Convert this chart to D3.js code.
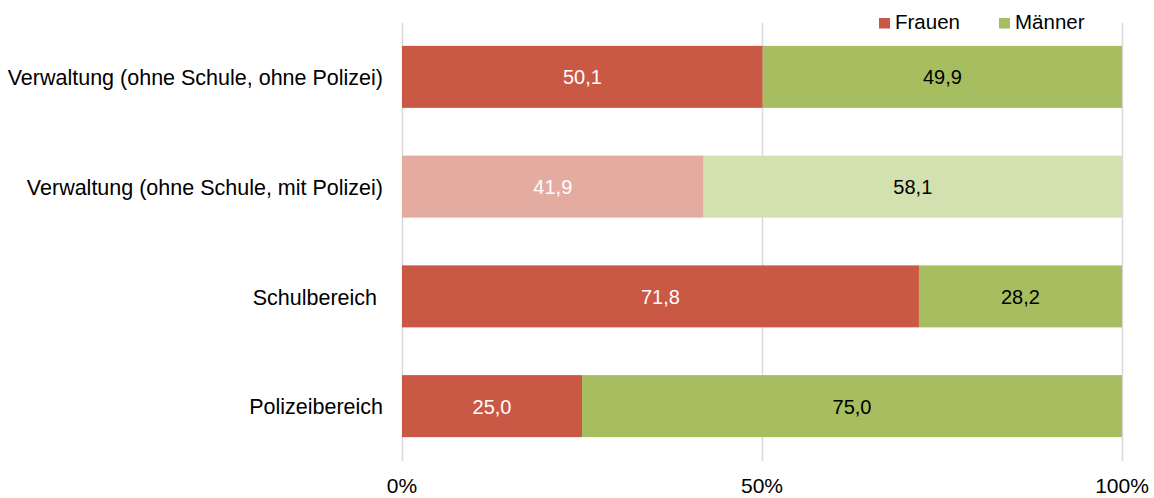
<!DOCTYPE html>
<html><head><meta charset="utf-8">
<script src="https://cdn.jsdelivr.net/npm/d3@7"></script>
<style>body{margin:0;background:#fff}svg{display:block;font-family:"Liberation Sans",Arial,sans-serif}</style>
</head><body><svg id="c" width="1154" height="498"></svg>
<script>
const categories = ["Verwaltung (ohne Schule, ohne Polizei)", "Verwaltung (ohne Schule, mit Polizei)", "Schulbereich ", "Polizeibereich"];
const frauen = [50.1, 41.9, 71.8, 25.0];
const maenner = [49.9, 58.1, 28.2, 75.0];
const highlight = [false, true, false, false];
const seriesNames = ["Frauen", "Männer"];
const xTicks = [0, 50, 100];

const colors = {Frauen: "#C95845", "Männer": "#A6BE60"};
const lightColors = {Frauen: "#E4ABA1", "Männer": "#D3E0B0"};

const svg = d3.select("#c");
const x = d3.scaleLinear().domain([0, 100]).range([402, 1122]);
const y = d3.scaleBand().domain(categories).range([22, 461]).paddingInner(0.435).paddingOuter(0.2175);

// gridlines
svg.append("g").selectAll("line").data(xTicks).join("line")
  .attr("x1", d => Math.round(x(d)) + 0.5).attr("x2", d => Math.round(x(d)) + 0.5)
  .attr("y1", 23).attr("y2", 461).attr("stroke", "#d9d9d9").attr("stroke-width", 1.5);

const rows = categories.map((c, i) => ({c, i, vals: [frauen[i], maenner[i]]}));
const g = svg.append("g");
rows.forEach(r => {
  let acc = 0;
  r.vals.forEach((v, k) => {
    const name = seriesNames[k];
    const fill = highlight[r.i] ? lightColors[name] : colors[name];
    g.append("rect").attr("x", x(acc)).attr("width", x(acc + v) - x(acc))
      .attr("y", y(r.c)).attr("height", y.bandwidth()).attr("fill", fill);
    g.append("text").attr("x", x(acc + v / 2)).attr("y", y(r.c) + y.bandwidth() / 2)
      .attr("dy", "0.38em").attr("text-anchor", "middle").attr("font-size", 20)
      .attr("fill", k === 0 ? "#fff" : "#000")
      .text(d3.format(".1f")(v).replace(".", ","));
    acc += v;
  });
});

// category labels
svg.append("g").selectAll("text").data(categories).join("text")
  .attr("x", 383).attr("y", d => y(d) + y.bandwidth() / 2).attr("dy", "0.38em")
  .attr("text-anchor", "end").attr("font-size", 21.5).attr("fill", "#000")
  .style("white-space", "pre").text(d => d);

// x axis labels
svg.append("g").selectAll("text").data(xTicks).join("text")
  .attr("x", d => x(d)).attr("y", 493).attr("text-anchor", "middle")
  .attr("font-size", 21).attr("fill", "#000").text(d => d + "%");

// legend
const leg = svg.append("g");
const legX = [879, 999];
seriesNames.forEach((n, k) => {
  leg.append("rect").attr("x", legX[k]).attr("y", 18).attr("width", 11).attr("height", 10.5).attr("fill", colors[n]);
  leg.append("text").attr("x", legX[k] + 16).attr("y", 29)
    .attr("font-size", 20.5).attr("fill", "#000").text(n);
});
</script></body></html>
